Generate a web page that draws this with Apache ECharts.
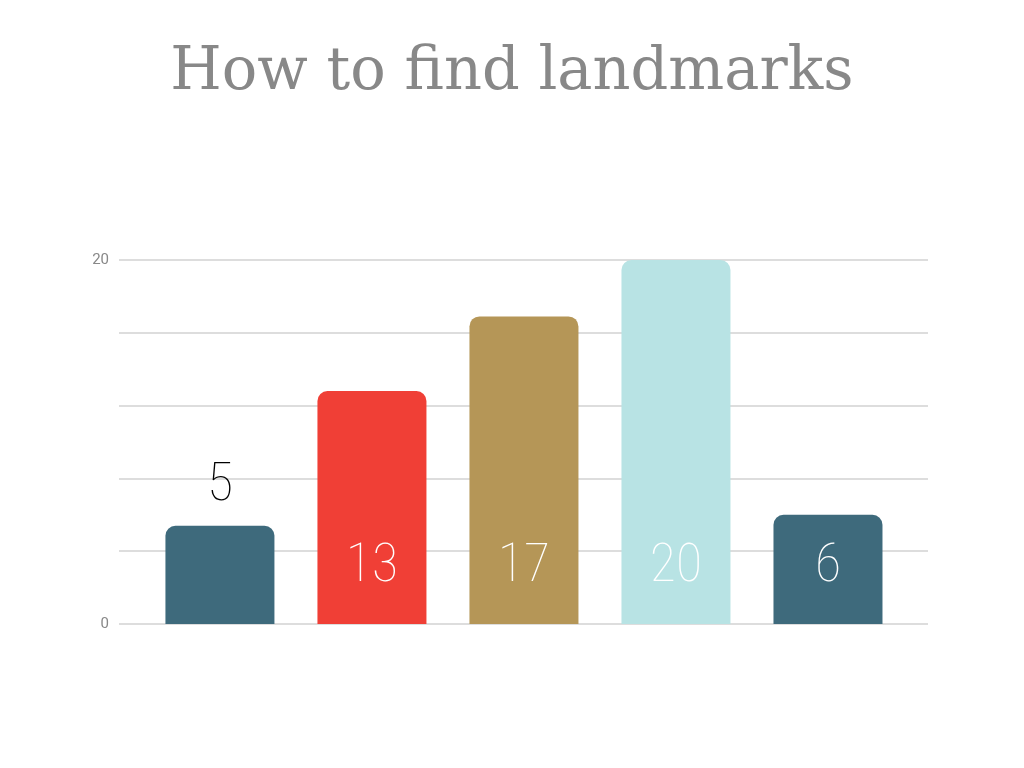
<!DOCTYPE html>
<html>
<head>
<meta charset="utf-8">
<script src="https://cdn.jsdelivr.net/npm/echarts@6/dist/echarts.min.js"></script>
<style>html,body{margin:0;padding:0;background:#fff}#c{width:1024px;height:768px}</style>
</head>
<body>
<div id="c"></div>
<script>
var categories = ['A', 'B', 'C', 'D', 'E'];
var values = [5.4, 12.8, 16.9, 20, 6];
var colors = ['#3e6a7c', '#f03f36', '#b59657', '#b8e3e4', '#3e6a7c'];
var yTickLabels = [0, 20];

var chart = echarts.init(document.getElementById('c'));
var data = values.map(function (v, i) {
  var outside = v < 6;
  return {
    value: [i, v],
    name: categories[i],
    itemStyle: { color: colors[i] },
    label: outside ? { position: 'top', distance: 12, color: '#000' } : { position: 'insideBottom', distance: 30, color: '#fff' }
  };
});
chart.setOption({
  animation: false,
  title: {
    text: 'How to find landmarks',
    left: 'center',
    top: 39,
    textStyle: { fontFamily: 'DejaVu Serif', fontWeight: 'normal', fontSize: 59, color: '#888888' }
  },
  grid: { left: 119, right: 96, top: 260, bottom: 144 },
  xAxis: {
    type: 'value', min: -0.664, max: 4.658,
    show: false
  },
  yAxis: {
    type: 'value', min: 0, max: 20, interval: 4,
    axisLine: { show: false }, axisTick: { show: false },
    axisLabel: {
      color: '#888', fontFamily: 'Roboto', fontSize: 15, margin: 10,
      formatter: function (v) { return yTickLabels.indexOf(v) >= 0 ? String(v) : ''; }
    },
    splitLine: { lineStyle: { color: '#dddddd', width: 2 } }
  },
  series: [{
    type: 'bar',
    barWidth: 109,
    data: data,
    itemStyle: { borderRadius: [10, 10, 0, 0] },
    label: {
      show: true,
      fontFamily: "'Roboto Condensed', Roboto",
      fontWeight: 100,
      fontSize: 54,
      formatter: function (p) { return Math.round(p.value[1]); }
    }
  }]
});
</script>
</body>
</html>
